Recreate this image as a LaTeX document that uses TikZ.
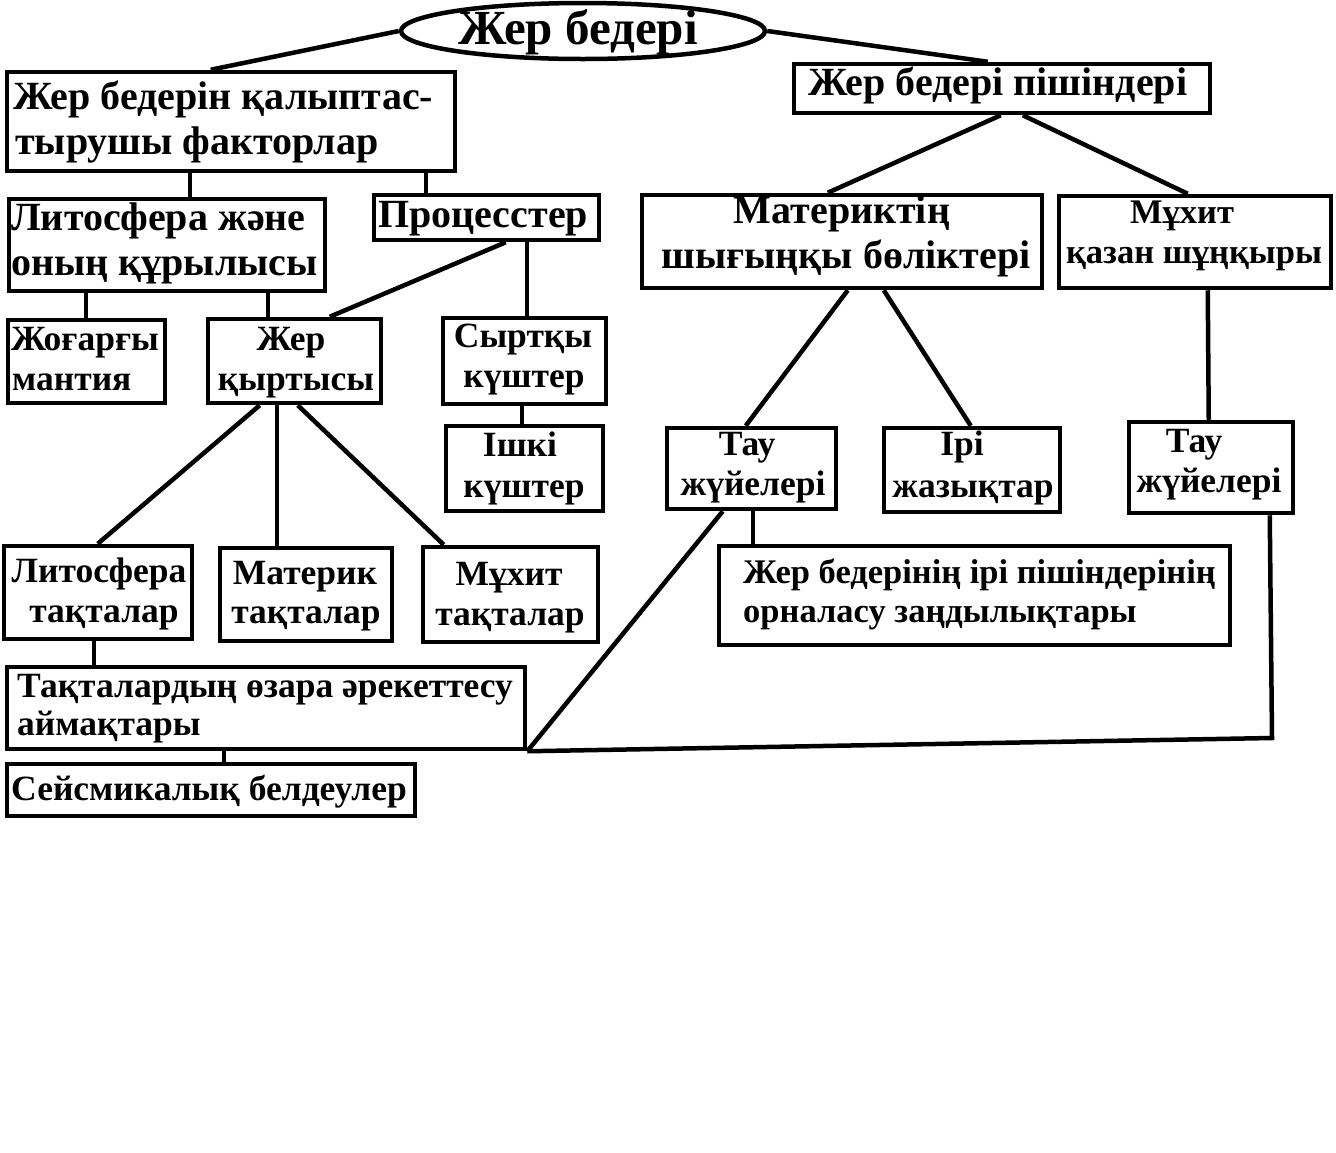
\documentclass[tikz,border=0pt]{standalone}
\usepackage{fontspec}
\setmainfont{Liberation Serif}
\usetikzlibrary{shapes.geometric}
\newcommand\fN{\fontsize{40}{44}\selectfont\bfseries}
\newcommand\fS{\fontsize{35.5}{40}\selectfont\bfseries}
\newcommand\fF{\fontsize{34.5}{40}\selectfont\bfseries}
\newcommand\fT{\fontsize{49}{54}\selectfont\bfseries}
\begin{document}
\begin{tikzpicture}[x=1pt,y=-1pt,
  bx/.style={draw, rectangle, inner sep=0pt, line width=4.5pt},
  lw/.style={anchor=base west, inner sep=0pt, font=\fN},
  lc/.style={anchor=base, inner sep=0pt, font=\fS},
  sw/.style={anchor=base west, inner sep=0pt, font=\fS},
  ln/.style={line width=4.5pt}]
\useasboundingbox[fill=white] (0,0) rectangle (1336,1152);
% boxes
\node[draw, ellipse, inner sep=0pt, line width=4.5pt, minimum width=364pt, minimum height=56pt] (ell) at (583,31) {};
\node[bx, minimum width=448pt, minimum height=99pt] (A) at (231,121.5) {};
\node[bx, minimum width=416pt, minimum height=49pt] (B) at (1002,88.5) {};
\node[bx, minimum width=316pt, minimum height=92pt] (C) at (167,245) {};
\node[bx, minimum width=225pt, minimum height=45pt] (D) at (486.5,217.5) {};
\node[bx, minimum width=400pt, minimum height=93pt] (E) at (842,241.5) {};
\node[bx, minimum width=272pt, minimum height=92pt] (F) at (1195,242) {};
\node[bx, minimum width=157pt, minimum height=83pt] (G) at (86.5,361.5) {};
\node[bx, minimum width=173pt, minimum height=84pt] (H) at (294.5,361) {};
\node[bx, minimum width=163pt, minimum height=86pt] (I) at (524.5,361) {};
\node[bx, minimum width=157pt, minimum height=85pt] (J) at (524.5,468.5) {};
\node[bx, minimum width=169pt, minimum height=81pt] (K) at (751.5,468.5) {};
\node[bx, minimum width=176pt, minimum height=84pt] (L) at (972,470) {};
\node[bx, minimum width=164pt, minimum height=91pt] (M) at (1211,467.5) {};
\node[bx, minimum width=188pt, minimum height=93pt] (N) at (98,592.5) {};
\node[bx, minimum width=172pt, minimum height=93pt] (O) at (306,594.5) {};
\node[bx, minimum width=175pt, minimum height=95pt] (P) at (510.5,594.5) {};
\node[bx, minimum width=511pt, minimum height=99pt] (Q) at (974.5,595.5) {};
\node[bx, minimum width=518pt, minimum height=82pt] (R) at (266,708) {};
\node[bx, minimum width=408pt, minimum height=52pt] (S) at (211,790) {};
\coordinate (cr) at (1272,738);
% texts
\node[anchor=base, inner sep=0pt, font=\fT] (t0) at (578,44) {Жер бедері};
\node[lw] (tA1) at (13,109) {Жер бедерін қалыптас-};
\node[lw] (tA2) at (15,154) {тырушы факторлар};
\node[lw] (tB) at (808,95) {Жер бедері пішіндері};
\node[lw] (tC1) at (11,230) {Литосфера және};
\node[lw] (tC2) at (11,275) {оның құрылысы};
\node[lw] (tD) at (378,227) {Процесстер};
\node[lc, font=\fN] (tE1) at (842,223) {Материктің};
\node[lc, font=\fN] (tE2) at (846,268) {шығыңқы бөліктері};
\node[lc, font=\fF] (tF1) at (1182,223) {Мұхит};
\node[lc, font=\fF] (tF2) at (1194,263) {қазан шұңқыры};
\node[sw] (tG1) at (11,350) {Жоғарғы};
\node[sw] (tG2) at (12,390) {мантия};
\node[lc] (tH1) at (291,350) {Жер};
\node[lc] (tH2) at (296,390) {қыртысы};
\node[lc] (tI1) at (523,347) {Сыртқы};
\node[lc] (tI2) at (524,387) {күштер};
\node[lc] (tJ1) at (520,456) {Ішкі};
\node[lc] (tJ2) at (524,497) {күштер};
\node[lc] (tK1) at (747,455) {Тау};
\node[lc] (tK2) at (753,495) {жүйелері};
\node[lc] (tL1) at (962,455) {Ірі};
\node[lc] (tL2) at (973,497) {жазықтар};
\node[lc] (tM1) at (1194,452) {Тау};
\node[lc] (tM2) at (1209,492) {жүйелері};
\node[lc] (tN1) at (99,582) {Литосфера};
\node[lc] (tN2) at (104,622) {тақталар};
\node[lc] (tO1) at (305,584) {Материк};
\node[lc] (tO2) at (306,623) {тақталар};
\node[lc] (tP1) at (509,585) {Мұхит};
\node[lc] (tP2) at (510,625) {тақталар};
\node[sw, font=\fF] (tQ1) at (743,583) {Жер бедерінің ірі пішіндерінің};
\node[sw, font=\fF] (tQ2) at (743,622) {орналасу заңдылықтары};
\node[sw] (tR1) at (17,697) {Тақталардың өзара әрекеттесу};
\node[sw] (tR2) at (17,735) {аймақтары};
\node[sw] (tS) at (11,800) {Сейсмикалық белдеулер};
% connectors
\draw[ln] (ell.west) -- ([xshift=206pt]A.north west);
\draw[ln] (ell.east) -- ([xshift=196pt]B.north west);
\draw[ln] ([xshift=185pt]A.south west) -- ([xshift=183pt]C.north west);
\draw[ln] ([xshift=421pt]A.south west) -- ([xshift=54pt]D.north west);
\draw[ln] ([xshift=209pt]B.south west) -- ([xshift=188pt]E.north west);
\draw[ln] ([xshift=231pt]B.south west) -- ([xshift=131pt]F.north west);
\draw[ln] ([xshift=79pt]C.south west) -- ([xshift=80pt]G.north west);
\draw[ln] ([xshift=261pt]C.south west) -- ([xshift=62pt]H.north west);
\draw[ln] ([xshift=134pt]D.south west) -- ([xshift=124pt]H.north west);
\draw[ln] ([xshift=155pt]D.south west) -- ([xshift=86pt]I.north west);
\draw[ln] ([xshift=81pt]I.south west) -- ([xshift=78pt]J.north west);
\draw[ln] ([xshift=208pt]E.south west) -- ([xshift=81pt]K.north west);
\draw[ln] ([xshift=244pt]E.south west) -- ([xshift=89pt]L.north west);
\draw[ln] ([xshift=151pt]F.south west) -- ([xshift=82pt]M.north west);
\draw[ln] ([xshift=54pt]H.south west) -- ([xshift=96pt]N.north west);
\draw[ln] ([xshift=71pt]H.south west) -- ([xshift=59pt]O.north west);
\draw[ln] ([xshift=92pt]H.south west) -- ([xshift=23pt]P.north west);
\draw[ln] ([xshift=92pt]N.south west) -- ([xshift=89pt]R.north west);
\draw[ln] ([xshift=219pt]R.south west) -- ([xshift=219pt]S.north west);
\draw[ln] ([xshift=58pt]K.south west) -- (R.south east);
\draw[ln] ([xshift=88pt]K.south west) -- ([xshift=36pt]Q.north west);
\draw[ln] (R.south east) -- (cr) -- ([xshift=143pt]M.south west);
\end{tikzpicture}
\end{document}
